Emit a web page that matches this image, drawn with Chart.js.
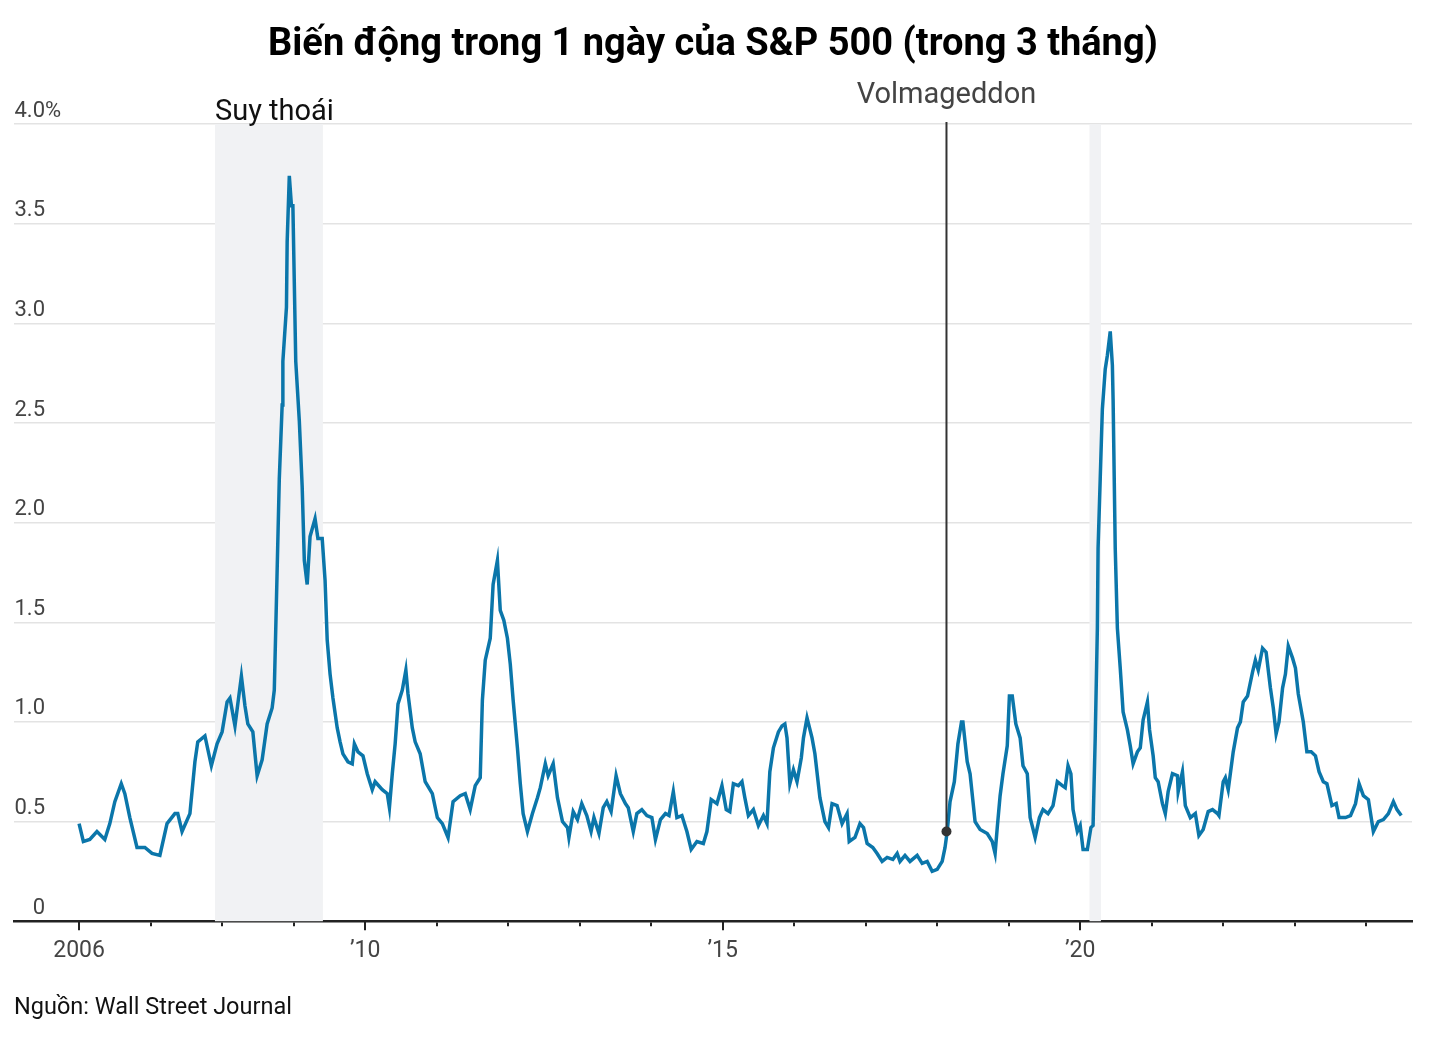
<!DOCTYPE html>
<html>
<head>
<meta charset="utf-8">
<script src="https://cdn.jsdelivr.net/npm/chart.js@4"></script>
<style>
  html, body { margin: 0; padding: 0; background: #fff; }
  #wrap { width: 1432px; height: 1044px; position: relative; }
</style>
</head>
<body>
<div id="wrap"><canvas id="volChart"></canvas></div>
<script>
// Data (x = decimal year, y = % daily move, 3-month avg)
const years = [
  2006.00, 2006.06, 2006.15, 2006.25, 2006.36, 2006.43, 2006.50, 2006.59, 2006.64, 2006.71,
  2006.81, 2006.92, 2007.02, 2007.13, 2007.23, 2007.34, 2007.38, 2007.44, 2007.55, 2007.62,
  2007.66, 2007.76, 2007.85, 2007.93, 2008.00, 2008.07, 2008.11, 2008.18, 2008.27, 2008.32,
  2008.36, 2008.43, 2008.49, 2008.56, 2008.63, 2008.70, 2008.73, 2008.76, 2008.80, 2008.84,
  2008.85, 2008.90, 2008.91, 2008.94, 2008.97, 2008.99, 2009.03, 2009.08, 2009.12, 2009.15,
  2009.19, 2009.23, 2009.30, 2009.34, 2009.40, 2009.44, 2009.47, 2009.51, 2009.55, 2009.61,
  2009.65, 2009.69, 2009.76, 2009.82, 2009.85, 2009.90, 2009.97, 2010.03, 2010.10, 2010.14,
  2010.24, 2010.31, 2010.34, 2010.38, 2010.42, 2010.46, 2010.52, 2010.57, 2010.60, 2010.66,
  2010.70, 2010.77, 2010.84, 2010.94, 2011.01, 2011.08, 2011.16, 2011.23, 2011.33, 2011.40,
  2011.47, 2011.54, 2011.61, 2011.64, 2011.68, 2011.75, 2011.79, 2011.85, 2011.89, 2011.94,
  2011.99, 2012.03, 2012.07, 2012.13, 2012.17, 2012.21, 2012.27, 2012.34, 2012.41, 2012.45,
  2012.52, 2012.56, 2012.63, 2012.69, 2012.76, 2012.83, 2012.85, 2012.91, 2012.97, 2013.03,
  2013.10, 2013.16, 2013.20, 2013.27, 2013.33, 2013.38, 2013.44, 2013.51, 2013.57, 2013.64,
  2013.68, 2013.75, 2013.80, 2013.87, 2013.94, 2014.01, 2014.06, 2014.13, 2014.20, 2014.25,
  2014.31, 2014.36, 2014.43, 2014.50, 2014.56, 2014.64, 2014.73, 2014.78, 2014.84, 2014.92,
  2014.99, 2015.05, 2015.10, 2015.15, 2015.22, 2015.27, 2015.31, 2015.36, 2015.43, 2015.50,
  2015.57, 2015.62, 2015.66, 2015.71, 2015.78, 2015.83, 2015.87, 2015.90, 2015.94, 2015.99,
  2016.04, 2016.10, 2016.13, 2016.18, 2016.25, 2016.29, 2016.36, 2016.43, 2016.48, 2016.53,
  2016.60, 2016.67, 2016.74, 2016.77, 2016.85, 2016.92, 2016.97, 2017.02, 2017.10, 2017.16,
  2017.23, 2017.30, 2017.38, 2017.44, 2017.48, 2017.55, 2017.62, 2017.72, 2017.79, 2017.86,
  2017.93, 2018.00, 2018.07, 2018.11, 2018.14, 2018.18, 2018.24, 2018.29, 2018.34, 2018.36,
  2018.42, 2018.46, 2018.53, 2018.60, 2018.70, 2018.77, 2018.81, 2018.84, 2018.88, 2018.92,
  2018.98, 2019.01, 2019.05, 2019.10, 2019.16, 2019.20, 2019.26, 2019.30, 2019.37, 2019.43,
  2019.48, 2019.55, 2019.62, 2019.68, 2019.75, 2019.79, 2019.83, 2019.87, 2019.90, 2019.96,
  2020.00, 2020.04, 2020.10, 2020.15, 2020.18, 2020.21, 2020.24, 2020.25, 2020.28, 2020.31,
  2020.35, 2020.38, 2020.42, 2020.45, 2020.46, 2020.49, 2020.52, 2020.56, 2020.60, 2020.66,
  2020.70, 2020.74, 2020.80, 2020.84, 2020.88, 2020.94, 2020.97, 2021.02, 2021.05, 2021.09,
  2021.15, 2021.19, 2021.23, 2021.29, 2021.36, 2021.37, 2021.43, 2021.47, 2021.54, 2021.61,
  2021.66, 2021.72, 2021.79, 2021.85, 2021.92, 2021.94, 2022.00, 2022.03, 2022.07, 2022.14,
  2022.20, 2022.24, 2022.28, 2022.34, 2022.41, 2022.45, 2022.49, 2022.55, 2022.60, 2022.66,
  2022.70, 2022.74, 2022.78, 2022.83, 2022.87, 2022.91, 2022.97, 2023.01, 2023.05, 2023.12,
  2023.17, 2023.23, 2023.29, 2023.34, 2023.40, 2023.45, 2023.52, 2023.58, 2023.62, 2023.71,
  2023.78, 2023.85, 2023.90, 2023.96, 2024.03, 2024.10, 2024.17, 2024.24, 2024.31, 2024.38,
  2024.43, 2024.49
];
const moves = [
  0.49, 0.40, 0.41, 0.45, 0.41, 0.49, 0.60, 0.69, 0.64, 0.52,
  0.37, 0.37, 0.34, 0.33, 0.49, 0.54, 0.54, 0.45, 0.54, 0.80,
  0.90, 0.93, 0.78, 0.89, 0.95, 1.10, 1.12, 0.98, 1.23, 1.08,
  0.99, 0.95, 0.73, 0.81, 0.99, 1.07, 1.16, 1.61, 2.22, 2.59,
  2.81, 3.08, 3.41, 3.74, 3.59, 3.59, 2.81, 2.51, 2.18, 1.81,
  1.69, 1.93, 2.02, 1.92, 1.92, 1.71, 1.41, 1.24, 1.12, 0.97,
  0.90, 0.84, 0.80, 0.79, 0.89, 0.85, 0.83, 0.74, 0.66, 0.70,
  0.66, 0.64, 0.57, 0.74, 0.89, 1.09, 1.16, 1.26, 1.14, 0.97,
  0.90, 0.84, 0.70, 0.64, 0.52, 0.49, 0.42, 0.60, 0.63, 0.64,
  0.56, 0.68, 0.72, 1.11, 1.31, 1.42, 1.69, 1.81, 1.56, 1.51,
  1.42, 1.29, 1.11, 0.87, 0.69, 0.54, 0.45, 0.54, 0.62, 0.67,
  0.79, 0.73, 0.79, 0.62, 0.50, 0.47, 0.42, 0.55, 0.51, 0.59,
  0.53, 0.45, 0.52, 0.44, 0.57, 0.60, 0.55, 0.73, 0.64, 0.59,
  0.57, 0.45, 0.54, 0.56, 0.53, 0.52, 0.41, 0.51, 0.54, 0.53,
  0.65, 0.52, 0.53, 0.45, 0.36, 0.40, 0.39, 0.45, 0.61, 0.59,
  0.68, 0.56, 0.55, 0.69, 0.68, 0.70, 0.62, 0.53, 0.56, 0.48,
  0.53, 0.49, 0.75, 0.87, 0.95, 0.98, 0.99, 0.92, 0.69, 0.76,
  0.70, 0.82, 0.92, 1.02, 0.92, 0.84, 0.62, 0.50, 0.47, 0.59,
  0.58, 0.49, 0.54, 0.40, 0.42, 0.49, 0.47, 0.39, 0.37, 0.34,
  0.30, 0.32, 0.31, 0.34, 0.30, 0.33, 0.30, 0.33, 0.29, 0.30,
  0.25, 0.26, 0.30, 0.37, 0.45, 0.60, 0.70, 0.89, 1.00, 1.00,
  0.80, 0.74, 0.50, 0.46, 0.44, 0.40, 0.34, 0.47, 0.63, 0.74,
  0.88, 1.13, 1.13, 0.99, 0.92, 0.78, 0.74, 0.52, 0.42, 0.52,
  0.56, 0.54, 0.58, 0.70, 0.68, 0.67, 0.78, 0.74, 0.56, 0.45,
  0.48, 0.36, 0.36, 0.47, 0.48, 0.92, 1.47, 1.87, 2.22, 2.57,
  2.77, 2.84, 2.96, 2.79, 2.62, 1.87, 1.47, 1.27, 1.05, 0.96,
  0.88, 0.79, 0.85, 0.87, 1.01, 1.10, 0.96, 0.83, 0.72, 0.70,
  0.59, 0.54, 0.65, 0.74, 0.73, 0.65, 0.75, 0.58, 0.52, 0.54,
  0.43, 0.46, 0.55, 0.56, 0.54, 0.53, 0.70, 0.72, 0.66, 0.85,
  0.97, 1.00, 1.10, 1.13, 1.25, 1.31, 1.26, 1.37, 1.35, 1.17,
  1.07, 0.94, 1.00, 1.17, 1.24, 1.38, 1.32, 1.27, 1.14, 1.00,
  0.85, 0.85, 0.83, 0.75, 0.70, 0.69, 0.58, 0.59, 0.52, 0.52,
  0.53, 0.59, 0.69, 0.63, 0.61, 0.45, 0.50, 0.51, 0.54, 0.60,
  0.56, 0.53
];

// axis ticks
const yTicks = [0, 0.5, 1, 1.5, 2, 2.5, 3, 3.5, 4];
const yLabels = ["0", "0.5", "1.0", "1.5", "2.0", "2.5", "3.0", "3.5", "4.0"];
const xTicks = [2006, 2007, 2008, 2009, 2010, 2011, 2012, 2013, 2014, 2015,
                2016, 2017, 2018, 2019, 2020, 2021, 2022, 2023, 2024];
const xLabels = { 2006: "2006", 2010: "\u201910", 2015: "\u201915", 2020: "\u201920" };

// recession spans and the Volmageddon marker
const recessions = [[2007.90, 2009.41], [2020.13, 2020.29]];
const volmageddon = { x: 2018.13, y: 0.45, label: "Volmageddon" };

const FONT = "Roboto, 'Noto Sans', sans-serif";
const LINE = "#0b76aa";

const points = years.map((x, i) => ({ x: x, y: moves[i] }));

const shading = {
  id: "shading",
  beforeDatasetsDraw(chart) {
    const { ctx, chartArea, scales: { x, y } } = chart;
    ctx.save();
    ctx.fillStyle = "#f1f2f4";
    recessions.forEach(([a, b]) => {
      const x0 = x.getPixelForValue(a), x1 = x.getPixelForValue(b);
      ctx.fillRect(x0, y.getPixelForValue(4), x1 - x0, chartArea.bottom - y.getPixelForValue(4));
    });
    ctx.restore();
  }
};

const extras = {
  id: "extras",
  afterDraw(chart) {
    const { ctx, chartArea, scales: { x, y } } = chart;
    ctx.save();
    // longer tick marks under labelled years
    ctx.strokeStyle = "#222";
    ctx.lineWidth = 2;
    Object.keys(xLabels).forEach(k => {
      const px = Math.round(x.getPixelForValue(+k));
      ctx.beginPath();
      ctx.moveTo(px, chartArea.bottom);
      ctx.lineTo(px, chartArea.bottom + 9);
      ctx.stroke();
    });
    // y labels, right aligned with the % hanging past
    ctx.font = "22px " + FONT;
    ctx.fillStyle = "#444";
    ctx.textBaseline = "middle";
    yTicks.forEach((v, i) => {
      const py = y.getPixelForValue(v) - 13;
      ctx.textAlign = "right";
      ctx.fillText(yLabels[i], 45, py);
      if (v === 4) {
        ctx.textAlign = "left";
        ctx.fillText("%", 45, py);
      }
    });
    // recession label
    ctx.font = "29px " + FONT;
    ctx.fillStyle = "#111";
    ctx.textAlign = "left";
    ctx.textBaseline = "alphabetic";
    ctx.fillText("Suy tho\u00e1i", x.getPixelForValue(recessions[0][0]), 120);
    // Volmageddon marker
    const vx = x.getPixelForValue(volmageddon.x);
    const vy = y.getPixelForValue(volmageddon.y);
    ctx.strokeStyle = "#333";
    ctx.lineWidth = 2;
    ctx.beginPath();
    ctx.moveTo(vx, y.getPixelForValue(4) - 2);
    ctx.lineTo(vx, vy);
    ctx.stroke();
    ctx.fillStyle = "#333";
    ctx.beginPath();
    ctx.arc(vx, vy, 5, 0, Math.PI * 2);
    ctx.fill();
    ctx.font = "29px " + FONT;
    ctx.fillStyle = "#444";
    ctx.textAlign = "center";
    ctx.fillText(volmageddon.label, vx, 103);
    ctx.restore();
  }
};

new Chart(document.getElementById("volChart"), {
  type: "line",
  data: {
    datasets: [{
      data: points,
      borderColor: LINE,
      borderWidth: 3.5,
      pointRadius: 0,
      tension: 0,
      fill: false
    }]
  },
  options: {
    responsive: true,
    maintainAspectRatio: false,
    animation: false,
    layout: { padding: { left: 14, right: 20, top: 0, bottom: 0 } },
    plugins: {
      legend: { display: false },
      tooltip: { enabled: false },
      title: {
        display: true,
        text: "Biến động trong 1 ngày của S&P 500 (trong 3 tháng)",
        color: "#000",
        font: { family: FONT, size: 38, weight: "bold" },
        padding: { top: 23, bottom: 55.5 }
      },
      subtitle: {
        display: true,
        position: "bottom",
        align: "start",
        text: "Nguồn: Wall Street Journal",
        color: "#111",
        font: { family: FONT, size: 23.5 },
        padding: { top: 18, bottom: 22 }
      }
    },
    scales: {
      x: {
        type: "linear",
        min: 2005.09,
        max: 2024.64,
        afterBuildTicks: s => { s.ticks = xTicks.map(v => ({ value: v })); },
        grid: { drawOnChartArea: false, tickLength: 5, color: "#222", lineWidth: 2 },
        border: { display: true, color: "#222", width: 2.5 },
        ticks: {
          autoSkip: false,
          maxRotation: 0,
          padding: 11,
          color: "#444",
          font: { family: FONT, size: 23 },
          callback: v => xLabels[v] || ""
        }
      },
      y: {
        min: 0,
        max: 4,
        afterBuildTicks: s => { s.ticks = yTicks.map(v => ({ value: v })); },
        grid: { color: "#e3e3e3", lineWidth: 1.5, drawTicks: false },
        border: { display: false },
        ticks: { display: false }
      }
    }
  },
  plugins: [shading, extras]
});
</script>
</body>
</html>
